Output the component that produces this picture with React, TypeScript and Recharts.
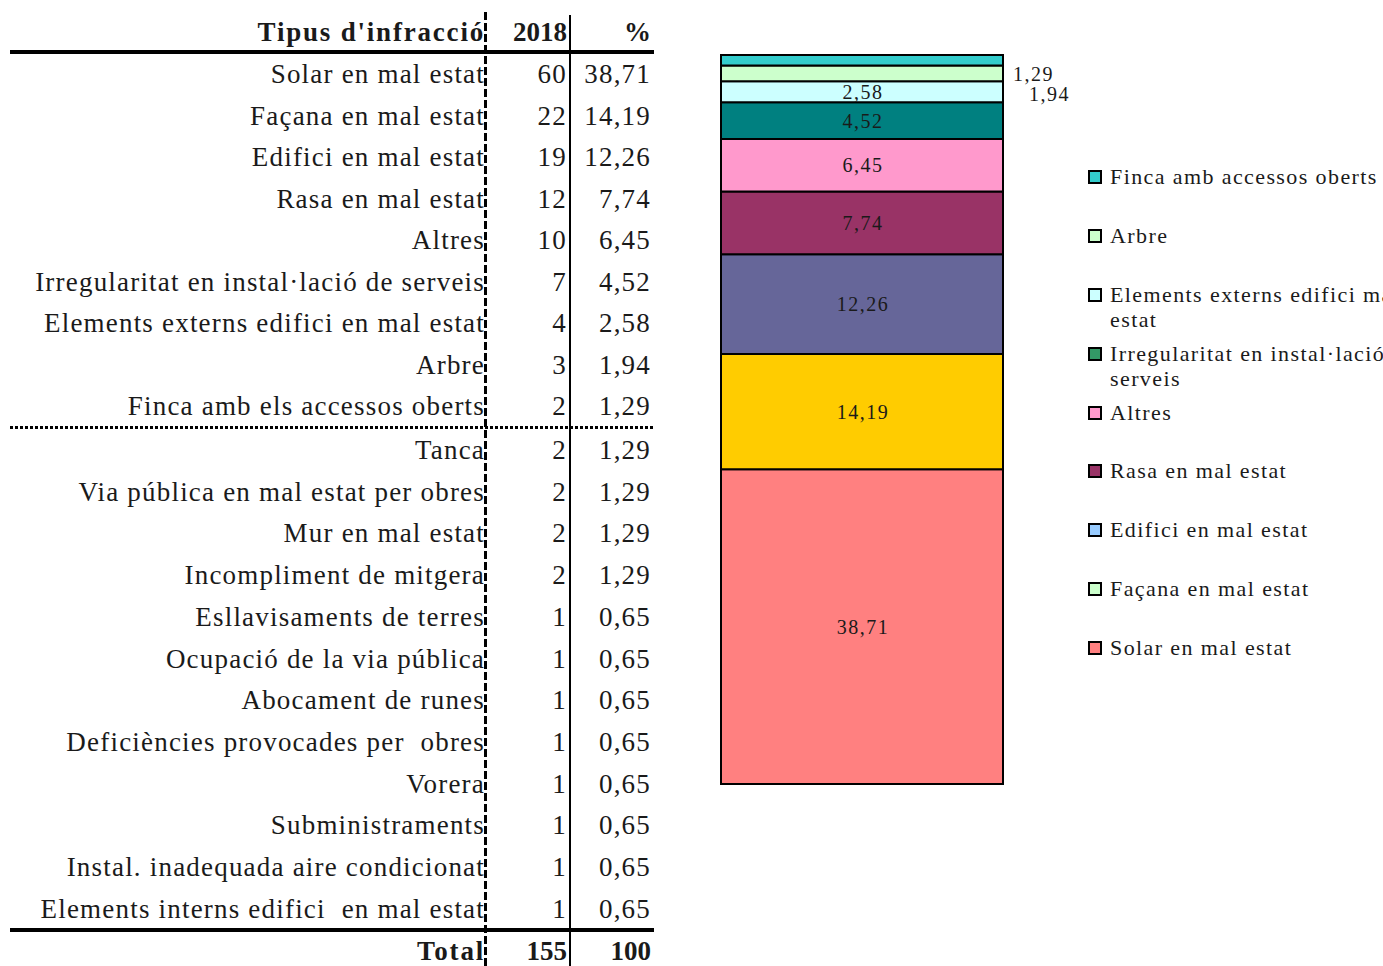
import { Bar, BarChart, LabelList, Legend, XAxis, YAxis } from "recharts"

// Taula de l'esquerra
const tableNames = [
    "Solar en mal estat",
    "Façana en mal estat",
    "Edifici en mal estat",
    "Rasa en mal estat",
    "Altres",
    "Irregularitat en instal·lació de serveis",
    "Elements externs edifici en mal estat",
    "Arbre",
    "Finca amb els accessos oberts",
    "Tanca",
    "Via pública en mal estat per obres",
    "Mur en mal estat",
    "Incompliment de mitgera",
    "Esllavisaments de terres",
    "Ocupació de la via pública",
    "Abocament de runes",
    "Deficiències provocades per  obres",
    "Vorera",
    "Subministraments",
    "Instal. inadequada aire condicionat",
    "Elements interns edifici  en mal estat",
]
const tableCounts = [60, 22, 19, 12, 10, 7, 4, 3, 2, 2, 2, 2, 2, 1, 1, 1, 1, 1, 1, 1, 1]
const tablePercents = [
    38.71, 14.19, 12.26, 7.74, 6.45, 4.52, 2.58, 1.94, 1.29, 1.29, 1.29, 1.29, 1.29,
    0.65, 0.65, 0.65, 0.65, 0.65, 0.65, 0.65, 0.65,
]
const totalCount = 155
const totalPercent = 100

// Barra apilada (de baix a dalt)
const seriesKeys = ["solar", "facana", "edifici", "rasa", "altres", "irregularitat", "externs", "arbre", "finca"]
const seriesNames = [
    "Solar en mal estat",
    "Façana en mal estat",
    "Edifici en mal estat",
    "Rasa en mal estat",
    "Altres",
    "Irregularitat en instal·lació de serveis",
    "Elements externs edifici mal estat",
    "Arbre",
    "Finca amb accessos oberts",
]
const seriesValues = [38.71, 14.19, 12.26, 7.74, 6.45, 4.52, 2.58, 1.94, 1.29]
const barColors = ["#FF8080", "#FFCC00", "#666699", "#993366", "#FF99CC", "#008080", "#CCFFFF", "#CCFFCC", "#33CCCC"]
const legendColors = ["#FF8080", "#CCFFCC", "#99CCFF", "#993366", "#FF99CC", "#339966", "#CCFFFF", "#CCFFCC", "#33CCCC"]

const chartData = [
    Object.fromEntries([["name", "2018"], ...seriesKeys.map((k, i) => [k, seriesValues[i]])]),
]

const FONT = "'Liberation Serif', 'Times New Roman', serif"
const TEXT = "#1a1a1a"

// etiquetes desplaçades fora de la barra
const outsideLabels: Record<string, { dx: number; dy: number }> = {
    finca: { dx: 10, dy: 14 },
    arbre: { dx: 26, dy: 21 },
}

const fmt = (v: number) => v.toFixed(2).replace(".", ",")

function makeLabel(key: string) {
    return (props: any) => {
        const x = Number(props.x)
        const y = Number(props.y)
        const w = Number(props.width)
        const h = Number(props.height)
        const out = outsideLabels[key]
        const common = {
            fontFamily: FONT,
            fontSize: 20,
            letterSpacing: 1.5,
            fill: TEXT,
            dominantBaseline: "central" as const,
        }
        if (out) {
            return (
                <text x={x + w + out.dx} y={y + h / 2 + out.dy} textAnchor="start" {...common}>
                    {fmt(Number(props.value))}
                </text>
            )
        }
        return (
            <text x={x + w / 2 + 1} y={y + h / 2} textAnchor="middle" {...common}>
                {fmt(Number(props.value))}
            </text>
        )
    }
}

function renderLegend() {
    const order = seriesKeys.map((_, i) => i).reverse()
    return (
        <div style={{ fontFamily: FONT, fontSize: 22, letterSpacing: 1.4, color: TEXT }}>
            {order.map((i) => (
                <div key={seriesKeys[i]} style={{ display: "flex", alignItems: "flex-start", height: 58.9 }}>
                    <span
                        style={{
                            width: 10,
                            height: 10,
                            border: "2px solid #000",
                            background: legendColors[i],
                            marginTop: 6,
                            marginRight: 8,
                            flex: "none",
                        }}
                    />
                    <span style={{ lineHeight: "25px", width: 330, whiteSpace: "normal" }}>{seriesNames[i]}</span>
                </div>
            ))}
        </div>
    )
}

function rowCenter(i: number) {
    return i < 9 ? 74 + i * 41.5 : 450 + (i - 9) * 41.7
}

function Cell({ cy, right, text, bold, num }: { cy: number; right: number; text: string; bold?: boolean; num?: boolean }) {
    return (
        <div
            style={{
                position: "absolute",
                top: cy - 16,
                right: 1383 - right,
                lineHeight: "32px",
                height: 32,
                whiteSpace: "pre",
                fontWeight: bold ? 700 : 400,
                letterSpacing: bold ? (num ? 0 : 1.8) : 1.2,
            }}
        >
            {text}
        </div>
    )
}

function Table() {
    const nameRight = 485
    const countRight = 567
    const pctRight = 651
    return (
        <div style={{ position: "absolute", inset: 0, fontFamily: FONT, fontSize: 27, color: TEXT }}>
            <Cell cy={32} right={nameRight} text="Tipus d'infracció" bold />
            <Cell cy={32} right={countRight} text="2018" bold num />
            <Cell cy={32} right={pctRight} text="%" bold num />
            {tableNames.map((n, i) => (
                <div key={n + i}>
                    <Cell cy={rowCenter(i)} right={nameRight} text={n} />
                    <Cell cy={rowCenter(i)} right={countRight} text={String(tableCounts[i])} />
                    <Cell cy={rowCenter(i)} right={pctRight} text={fmt(tablePercents[i])} />
                </div>
            ))}
            <Cell cy={951} right={nameRight} text="Total" bold />
            <Cell cy={951} right={countRight} text={String(totalCount)} bold num />
            <Cell cy={951} right={pctRight} text={String(totalPercent)} bold num />

            {/* línies */}
            <div style={{ position: "absolute", left: 10, top: 50, width: 644, height: 4, background: "#000" }} />
            <div style={{ position: "absolute", left: 10, top: 928, width: 644, height: 4, background: "#000" }} />
            <div
                style={{
                    position: "absolute",
                    left: 10,
                    top: 426,
                    width: 644,
                    height: 3,
                    background: "repeating-linear-gradient(to right, #000 0 3px, transparent 3px 5px)",
                }}
            />
            <div
                style={{
                    position: "absolute",
                    left: 484,
                    top: 12,
                    width: 3,
                    height: 954,
                    background: "repeating-linear-gradient(to bottom, #000 0 8px, transparent 8px 11px)",
                }}
            />
            <div style={{ position: "absolute", left: 569, top: 15, width: 1.5, height: 951, background: "#000" }} />
        </div>
    )
}

export default function App() {
    return (
        <div
            style={{
                position: "absolute",
                left: 0,
                top: 0,
                width: 1383,
                height: 966,
                overflow: "hidden",
                background: "#fff",
            }}
        >
            <Table />
            <div style={{ position: "absolute", left: 660, top: 0 }}>
                <BarChart
                    width={723}
                    height={966}
                    data={chartData}
                    margin={{ top: 55, right: 380, bottom: 182, left: 61 }}
                    barCategoryGap={0}
                >
                    <XAxis dataKey="name" hide />
                    <YAxis hide domain={[0, "dataMax"]} />
                    <Legend
                        layout="vertical"
                        align="center"
                        verticalAlign="middle"
                        content={renderLegend}
                        wrapperStyle={{ left: 428, top: 164, width: 360 }}
                    />
                    {seriesKeys.map((k, i) => (
                        <Bar
                            key={k}
                            dataKey={k}
                            name={seriesNames[i]}
                            stackId="a"
                            fill={barColors[i]}
                            stroke="#000"
                            strokeWidth={2}
                            isAnimationActive={false}
                        >
                            <LabelList dataKey={k} content={makeLabel(k)} />
                        </Bar>
                    ))}
                </BarChart>
            </div>
        </div>
    )
}
